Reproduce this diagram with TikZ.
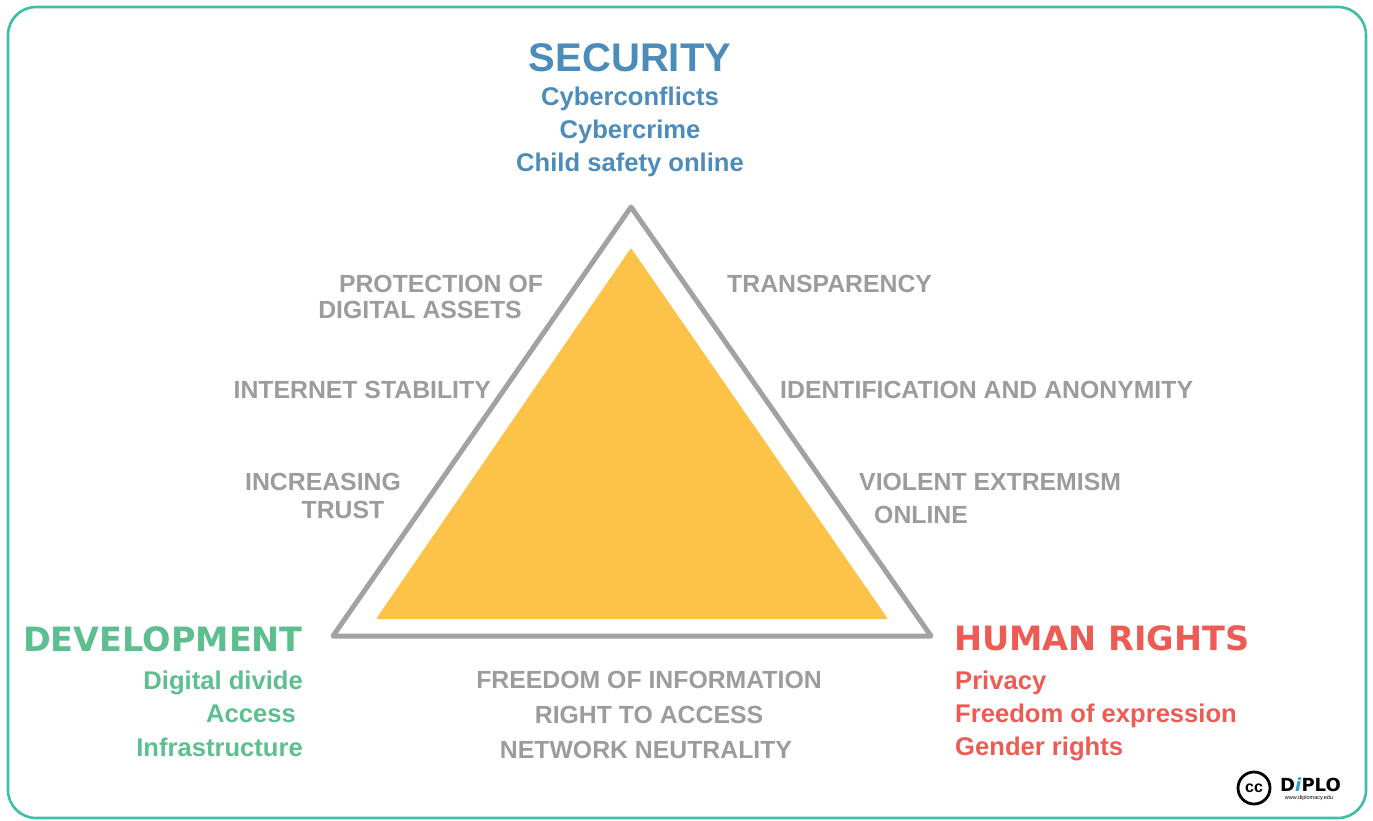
\documentclass[tikz,border=0pt]{standalone}
\usepackage{fontspec}
\setmainfont{Liberation Sans}
\newfontfamily\widefont{DejaVu Sans}
\definecolor{secblue}{HTML}{4B8CBA}
\definecolor{devgreen}{HTML}{5DBF8F}
\definecolor{hrred}{HTML}{EE5B55}
\definecolor{labgrey}{HTML}{9C9C9C}
\definecolor{trigrey}{HTML}{A2A2A2}
\definecolor{triyellow}{HTML}{FDC248}
\definecolor{frameteal}{HTML}{3DBFA5}
\definecolor{diploblue}{HTML}{2E9CC8}

\begin{document}
\begin{tikzpicture}[x=1pt, y=-1pt,
        head/.style = {anchor=base, inner sep=0pt, font=\bfseries\fontsize{40}{48}\selectfont},
        widehead/.style = {inner sep=0pt, font=\widefont\bfseries\fontsize{33.5}{40}\selectfont},
        item/.style = {inner sep=0pt, font=\bfseries\fontsize{25.6}{30}\selectfont},
        lab/.style = {inner sep=0pt, text=labgrey, font=\bfseries\fontsize{24.8}{29}\selectfont} ]
    \useasboundingbox (0,0) rectangle (1373,820);
    \draw[frameteal, line width=2.6, rounded corners=28pt] (8,7) rectangle (1366,818);

    \coordinate (top) at (631,207);
    \coordinate (bl) at (333,636);
    \coordinate (br) at (931,636);
    \coordinate (itop) at (631,248);
    \coordinate (ibl) at (376,619);
    \coordinate (ibr) at (888,619);
    \fill[triyellow, rounded corners=2pt] (itop) -- (ibl) -- (ibr) -- cycle;
    \draw[trigrey, line width=5, line join=round] (top) -- (bl) -- (br) -- cycle;

    \node at (630, 71) [head, text=secblue] (sec) {SECURITY};
    \node at (630,105) [item, anchor=base, text=secblue] (sec1) {Cyberconflicts};
    \node at (630,138) [item, anchor=base, text=secblue] (sec2) {Cybercrime};
    \node at (630,171) [item, anchor=base, text=secblue] (sec3) {Child safety online};

    \node at (303,651) [widehead, anchor=base east, text=devgreen] (dev) {DEVELOPMENT};
    \node at (303,689) [item, anchor=base east, text=devgreen] (dev1) {Digital divide};
    \node at (296,722) [item, anchor=base east, text=devgreen] (dev2) {Access};
    \node at (303,756) [item, anchor=base east, text=devgreen] (dev3) {Infrastructure};

    \node at (954,650) [widehead, anchor=base west, text=hrred] (hr) {HUMAN RIGHTS};
    \node at (955,689) [item, anchor=base west, text=hrred] (hr1) {Privacy};
    \node at (955,722) [item, anchor=base west, text=hrred] (hr2) {Freedom of expression};
    \node at (955,755) [item, anchor=base west, text=hrred] (hr3) {Gender rights};

    \node at (441,292) [lab, anchor=base] (prot1) {PROTECTION OF};
    \node at (420,318) [lab, anchor=base] (prot2) {DIGITAL ASSETS};
    \node at (491,398) [lab, anchor=base east] (stab) {INTERNET STABILITY};
    \node at (323,490) [lab, anchor=base] (trust1) {INCREASING};
    \node at (343,518) [lab, anchor=base] (trust2) {TRUST};

    \node at (727,292) [lab, anchor=base west] (transp) {TRANSPARENCY};
    \node at (780,398) [lab, anchor=base west] (ident) {IDENTIFICATION AND ANONYMITY};
    \node at (859,490) [lab, anchor=base west] (viol1) {VIOLENT EXTREMISM};
    \node at (874,523) [lab, anchor=base west] (viol2) {ONLINE};

    \node at (649,688) [lab, anchor=base] (foi) {FREEDOM OF INFORMATION};
    \node at (649,723) [lab, anchor=base] (rta) {RIGHT TO ACCESS};
    \node at (646,758) [lab, anchor=base] (nn) {NETWORK NEUTRALITY};

    \node at (1254,788) [circle, draw, line width=2.8, minimum size=32pt, inner sep=0pt,
        font=\bfseries\fontsize{16}{16}\selectfont] (cc) {cc};
    \node at (1280,791) [anchor=base west, inner sep=0pt,
        font=\widefont\bfseries\fontsize{18}{18}\selectfont] (diplo) {D\textcolor{diploblue}{\textit{i}}PLO};
    \node at (1309,799) [anchor=base, inner sep=0pt, font=\fontsize{5.5}{6}\selectfont] (url) {www.diplomacy.edu};
\end{tikzpicture}
\end{document}
